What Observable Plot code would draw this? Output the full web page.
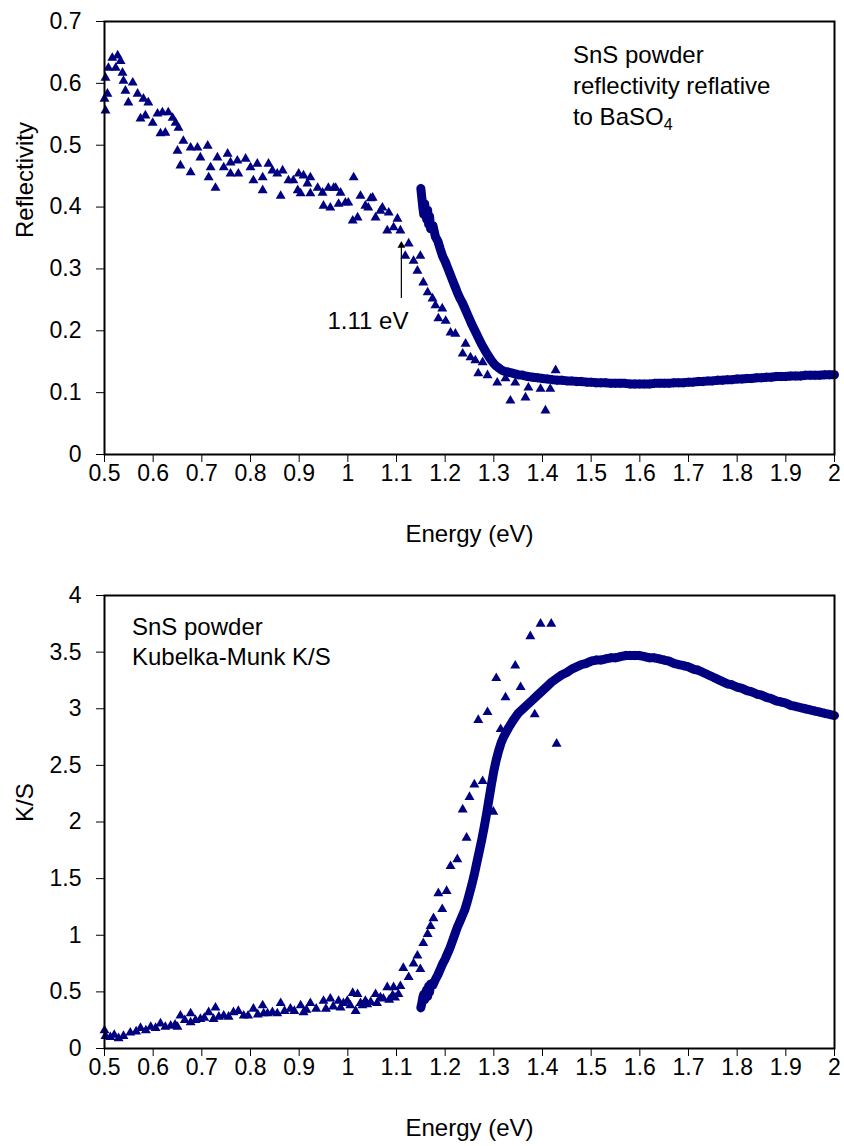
<!DOCTYPE html>
<html>
<head>
<meta charset="utf-8">
<script src="https://cdn.jsdelivr.net/npm/d3@7"></script>
<script src="https://cdn.jsdelivr.net/npm/@observablehq/plot@0.6"></script>
<style>
  html, body { margin: 0; padding: 0; background: #fff; }
  #chart svg { display: block; overflow: visible; }
</style>
</head>
<body>
<div id="chart"></div>
<script>
const navy = "#000080";
const FONT = "'Liberation Sans', Arial, Helvetica, sans-serif";

// Tick values
const xTicks = [0.5, 0.6, 0.7, 0.8, 0.9, 1, 1.1, 1.2, 1.3, 1.4, 1.5, 1.6, 1.7, 1.8, 1.9, 2];
const reflTicks = [0, 0.1, 0.2, 0.3, 0.4, 0.5, 0.6, 0.7];
const ksTicks = [0, 0.5, 1, 1.5, 2, 2.5, 3, 3.5, 4];

// Triangle series (top panel): energy (eV) and reflectivity
const triReflE = [0.500,0.502,0.502,0.506,0.508,0.516,0.523,0.527,0.533,0.537,
  0.539,0.543,0.549,0.558,0.568,0.574,0.580,0.584,0.590,0.599,
  0.609,0.615,0.619,0.625,0.631,0.640,0.646,0.650,0.652,0.656,
  0.662,0.677,0.677,0.691,0.697,0.712,0.714,0.718,0.728,0.732,
  0.745,0.753,0.759,0.759,0.773,0.775,0.790,0.800,0.806,0.814,
  0.825,0.825,0.837,0.845,0.855,0.862,0.866,0.878,0.888,0.897,
  0.899,0.903,0.909,0.917,0.923,0.923,0.938,0.948,0.950,0.960,
  0.964,0.971,0.975,0.981,0.985,0.995,1.001,1.010,1.012,1.020,
  1.026,1.036,1.042,1.047,1.051,1.057,1.067,1.071,1.081,1.084,
  1.094,1.102,1.108,1.118,1.125,1.135,1.143,1.149,1.155,1.164,
  1.174,1.180,1.186,1.194,1.201,1.211,1.221,1.236,1.242,1.252,
  1.262,1.268,1.277,1.287,1.307,1.324,1.334,1.344,1.365,1.371,
  1.396,1.406,1.416,1.427];
const triRefl = [0.575,0.556,0.609,0.583,0.625,0.641,0.625,0.645,0.636,0.617,
  0.604,0.588,0.569,0.601,0.583,0.543,0.575,0.548,0.569,0.536,
  0.551,0.519,0.553,0.520,0.553,0.544,0.536,0.491,0.528,0.467,
  0.507,0.456,0.496,0.496,0.480,0.499,0.448,0.464,0.431,0.480,
  0.464,0.486,0.472,0.454,0.475,0.454,0.478,0.464,0.443,0.470,
  0.448,0.427,0.470,0.459,0.454,0.418,0.459,0.443,0.443,0.427,
  0.454,0.422,0.451,0.438,0.448,0.422,0.431,0.423,0.402,0.431,
  0.399,0.431,0.431,0.405,0.423,0.407,0.407,0.378,0.448,0.383,
  0.418,0.402,0.399,0.414,0.415,0.383,0.394,0.399,0.362,0.391,
  0.367,0.381,0.362,0.321,0.341,0.313,0.297,0.321,0.278,0.262,
  0.252,0.241,0.220,0.236,0.216,0.197,0.195,0.163,0.179,0.157,
  0.152,0.131,0.149,0.128,0.116,0.123,0.087,0.116,0.092,0.108,
  0.106,0.071,0.106,0.136];

// Triangle series (bottom panel): energy (eV) and K/S
const triKSE = [0.500,0.502,0.512,0.520,0.529,0.539,0.553,0.565,0.574,0.585,
  0.595,0.605,0.615,0.625,0.636,0.645,0.650,0.656,0.665,0.677,
  0.677,0.687,0.697,0.705,0.714,0.724,0.728,0.735,0.745,0.755,
  0.765,0.775,0.786,0.795,0.806,0.815,0.825,0.827,0.835,0.845,
  0.855,0.862,0.870,0.882,0.890,0.903,0.909,0.915,0.923,0.935,
  0.950,0.955,0.964,0.970,0.981,0.985,0.991,0.999,1.005,1.010,
  1.016,1.020,1.026,1.030,1.036,1.040,1.047,1.057,1.060,1.067,
  1.073,1.081,1.085,1.092,1.094,1.097,1.104,1.108,1.114,1.125,
  1.135,1.143,1.149,1.155,1.164,1.170,1.176,1.186,1.194,1.203,
  1.211,1.225,1.236,1.244,1.250,1.260,1.268,1.277,1.287,1.299,
  1.305,1.314,1.324,1.344,1.355,1.375,1.384,1.396,1.418,1.429];
const triKS = [0.16,0.11,0.10,0.12,0.09,0.11,0.14,0.15,0.18,0.16,
  0.19,0.18,0.22,0.19,0.20,0.21,0.19,0.29,0.25,0.31,
  0.23,0.25,0.26,0.27,0.32,0.26,0.36,0.28,0.29,0.28,
  0.32,0.33,0.29,0.29,0.35,0.30,0.38,0.31,0.31,0.32,
  0.31,0.40,0.33,0.35,0.33,0.38,0.32,0.34,0.40,0.35,
  0.42,0.35,0.44,0.37,0.42,0.36,0.40,0.42,0.38,0.49,
  0.33,0.48,0.40,0.38,0.42,0.39,0.41,0.48,0.40,0.45,
  0.44,0.54,0.43,0.47,0.54,0.45,0.48,0.55,0.71,0.63,
  0.75,0.82,0.70,0.93,1.01,1.08,1.15,1.37,1.23,1.39,
  1.61,1.67,2.11,1.86,2.22,2.33,2.90,2.36,2.97,2.09,
  3.27,2.82,3.10,3.38,3.19,3.64,2.95,3.75,3.75,2.69];

// Diamond series (dense scan): energy (eV), reflectivity, K/S
const diaE = [1.150,1.152,1.154,1.156,1.158,1.160,1.162,1.164,1.166,1.168,1.170,
  1.175,1.180,1.185,1.190,1.195,1.200,1.205,1.210,1.215,1.220,
  1.225,1.230,1.235,1.240,1.245,1.250,1.255,1.260,1.265,1.270,
  1.275,1.280,1.285,1.290,1.295,1.300,1.305,1.310,1.315,1.320,
  1.33,1.34,1.35,1.36,1.37,1.38,1.39,
  1.40,1.41,1.42,1.43,1.44,1.45,1.46,1.47,1.48,1.49,
  1.50,1.51,1.52,1.53,1.54,1.55,1.56,1.57,1.58,1.59,
  1.60,1.61,1.62,1.63,1.64,1.65,1.66,1.67,1.68,1.69,
  1.70,1.71,1.72,1.73,1.74,1.75,1.76,1.77,1.78,1.79,
  1.80,1.81,1.82,1.83,1.84,1.85,1.86,1.87,1.88,1.89,
  1.90,1.91,1.92,1.93,1.94,1.95,1.96,1.97,1.98,1.99,2.00];
const diaRefl = [0.430,0.415,0.400,0.388,0.405,0.392,0.380,0.395,0.372,0.385,0.365,
  0.370,0.352,0.345,0.332,0.320,0.312,0.302,0.292,0.282,0.272,
  0.262,0.253,0.246,0.237,0.228,0.219,0.210,0.202,0.194,0.186,
  0.178,0.171,0.164,0.158,0.152,0.147,0.143,0.140,0.137,0.135,
  0.133,0.131,0.129,0.128,0.126,0.125,0.124,
  0.123,0.122,0.121,0.120,0.120,0.119,0.119,0.118,0.118,0.117,
  0.117,0.116,0.116,0.116,0.115,0.115,0.115,0.115,0.114,0.114,
  0.114,0.114,0.114,0.115,0.115,0.115,0.115,0.116,0.116,0.116,
  0.117,0.117,0.118,0.118,0.119,0.119,0.120,0.120,0.121,0.121,
  0.122,0.122,0.123,0.123,0.124,0.124,0.125,0.125,0.126,0.126,
  0.126,0.127,0.127,0.127,0.128,0.128,0.128,0.128,0.129,0.129,0.129];
const diaKS = [0.36,0.40,0.45,0.48,0.43,0.47,0.52,0.46,0.55,0.50,0.57,
  0.56,0.61,0.65,0.70,0.75,0.79,0.84,0.89,0.95,1.01,
  1.07,1.12,1.17,1.22,1.29,1.37,1.45,1.54,1.64,1.74,
  1.84,1.95,2.07,2.20,2.33,2.45,2.55,2.63,2.70,2.75,
  2.83,2.90,2.96,3.00,3.04,3.08,3.12,
  3.16,3.20,3.24,3.27,3.30,3.32,3.35,3.37,3.39,3.40,
  3.42,3.43,3.43,3.44,3.45,3.45,3.46,3.47,3.47,3.47,
  3.47,3.46,3.45,3.45,3.44,3.43,3.42,3.40,3.39,3.38,
  3.37,3.35,3.34,3.32,3.30,3.28,3.26,3.24,3.22,3.21,
  3.19,3.18,3.16,3.15,3.13,3.12,3.10,3.09,3.07,3.06,
  3.05,3.03,3.02,3.01,3.00,2.99,2.98,2.97,2.96,2.95,2.94];

const triReflData = triReflE.map((e, i) => ({e, v: triRefl[i]}));
const triKSData = triKSE.map((e, i) => ({e, v: triKS[i]}));
const diaReflData = diaE.map((e, i) => ({e, v: diaRefl[i]}));
const diaKSData = diaE.map((e, i) => ({e, v: diaKS[i]}));

const fmt = d3.format("~g");
const TICK_FS = 23, LABEL_FS = 24;

function panel({height, marginTop, marginBottom, yDomain, yTicks, yLabel, tri, dia, extra = []}) {
  return Plot.plot({
    width: 844,
    height,
    marginLeft: 104,
    marginRight: 10,
    marginTop,
    marginBottom,
    style: {fontFamily: FONT, fontSize: TICK_FS + "px", color: "#000", background: "#fff", overflow: "visible"},
    x: {domain: [0.5, 2]},
    y: {domain: yDomain},
    marks: [
      Plot.axisX({ticks: xTicks, tickFormat: fmt, tickSize: 8, tickPadding: 2, label: null, fontSize: TICK_FS}),
      Plot.axisY({ticks: yTicks, tickFormat: fmt, tickSize: 8, tickPadding: 15, label: null, fontSize: TICK_FS}),
      Plot.line(dia, {x: "e", y: "v", stroke: navy, strokeWidth: 9, curve: "linear"}),
      Plot.dot(dia, {x: "e", y: "v", symbol: "diamond", r: 3, fill: navy}),
      Plot.dot(tri, {x: "e", y: "v", symbol: "triangle", r: 3.7, fill: navy}),
      Plot.frame({stroke: "#000", strokeWidth: 2}),
      Plot.text(["Energy (eV)"], {frameAnchor: "bottom", dy: 80, fontSize: LABEL_FS, lineAnchor: "middle"}),
      Plot.text([yLabel], {frameAnchor: "left", dx: -79, rotate: -90, fontSize: LABEL_FS, lineAnchor: "middle"}),
      ...extra
    ]
  });
}

const topPlot = panel({
  height: 570, marginTop: 21, marginBottom: 116,
  yDomain: [0, 0.7], yTicks: reflTicks, yLabel: "Reflectivity",
  tri: triReflData, dia: diaReflData,
  extra: [
    Plot.ruleX([1.11], {y1: 0.252, y2: 0.338, stroke: "#000", strokeWidth: 1.2}),
    Plot.dot([1.11], {x: d => d, y: () => 0.338, symbol: "triangle", r: 2.9, fill: "#000"}),
    Plot.text(["1.11 eV"], {x: () => 1.0414, y: () => 0.215, fontSize: LABEL_FS})
  ]
});

const bottomPlot = panel({
  height: 576, marginTop: 25, marginBottom: 98,
  yDomain: [0, 4], yTicks: ksTicks, yLabel: "K/S",
  tri: triKSData, dia: diaKSData
});

function scaleFn(plot, name) {
  const s = plot.scale(name);
  return s.apply ? (v) => s.apply(v) : d3.scaleLinear(s.domain, s.range);
}

// Annotation blocks (with subscript)
function annotate(plot, x, yFirst, lines, lineGap) {
  const fx = scaleFn(plot, "x"), fy = scaleFn(plot, "y");
  const svg = d3.select(plot);
  const X = fx(x), Y = fy(yFirst);
  lines.forEach((ln, i) => {
    const t = svg.append("text")
      .attr("x", X).attr("y", Y + i * lineGap)
      .attr("text-anchor", "start")
      .attr("font-family", FONT).attr("font-size", LABEL_FS).attr("fill", "#000");
    ln.forEach(part => {
      const ts = t.append("tspan").text(part.text);
      if (part.sub) ts.attr("font-size", 16).attr("dy", 5);
    });
  });
}

annotate(topPlot, 1.4636, 0.632, [
  [{text: "SnS powder"}],
  [{text: "reflectivity reflative"}],
  [{text: "to BaSO"}, {text: "4", sub: true}]
], 31);

annotate(bottomPlot, 0.5575, 3.645, [
  [{text: "SnS powder"}],
  [{text: "Kubelka-Munk K/S"}]
], 30);

document.getElementById("chart").append(topPlot, bottomPlot);
</script>
</body>
</html>
